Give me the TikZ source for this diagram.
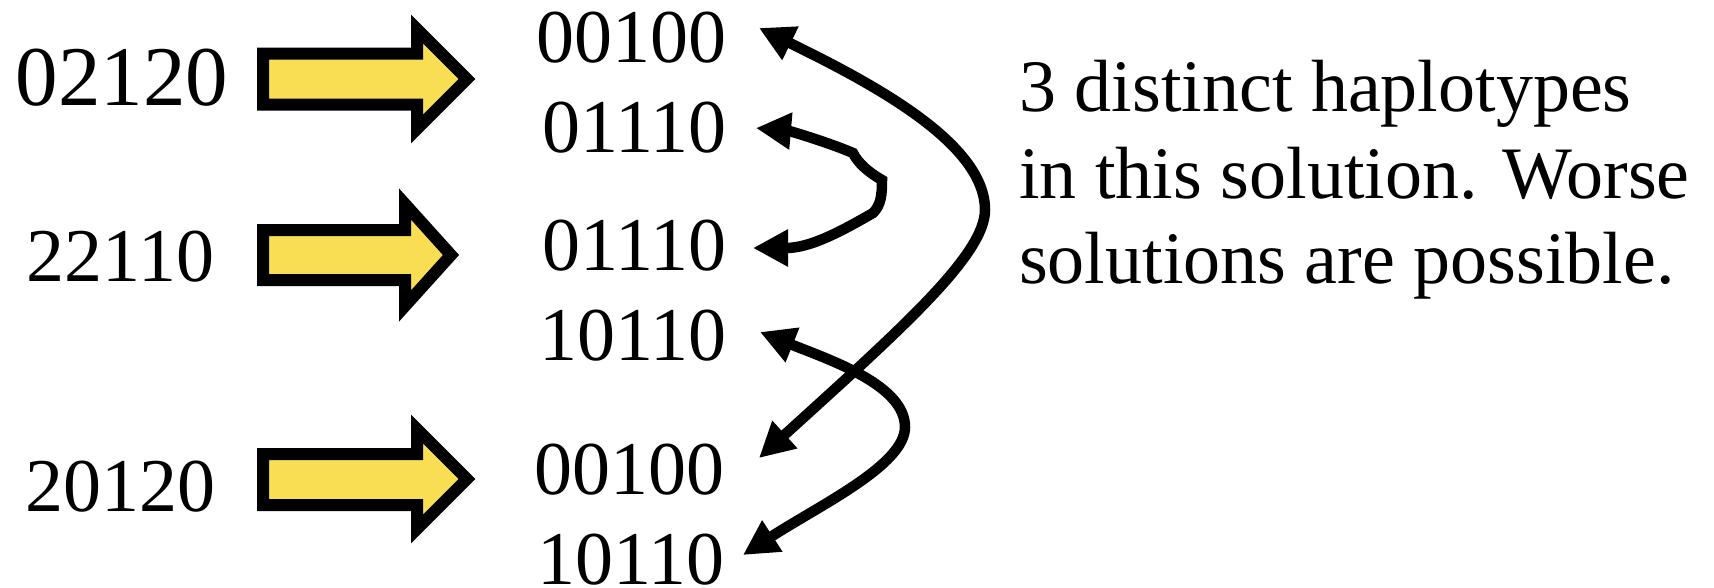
\documentclass[tikz,border=0pt]{standalone}
\usepackage{fontspec}
\setmainfont{Liberation Serif}
\usetikzlibrary{arrows.meta}
\definecolor{arrowyellow}{HTML}{F9DE53}
\begin{document}
\begin{tikzpicture}[x=1pt,y=-1pt,
  blockarrow/.style={draw=black, line width=12pt, fill=arrowyellow, line join=miter, miter limit=10},
  bigdigits/.style={inner sep=0pt, anchor=base, font=\fontsize{85}{90}\selectfont},
  digits/.style={inner sep=0pt, anchor=base, font=\fontsize{76}{80}\selectfont},
  outdigits/.style={inner sep=0pt, anchor=base east, font=\fontsize{76}{80}\selectfont},
  note/.style={inner sep=0pt, anchor=base west, font=\fontsize{74}{86}\selectfont},
  link/.style={line width=10.5pt, {Triangle[length=35pt,width=35pt]}-{Triangle[length=35pt,width=35pt]}}
]
\path[use as bounding box] (0,0) rectangle (1714,587);

% genotypes
\node[bigdigits] (g1) at (122,105) {02120};
\node[digits] (g2) at (120.5,281) {22110};
\node[digits] (g3) at (120.5,511) {20120};

% block arrows
\draw[blockarrow] (263,53.5) -- (417,53.5) -- (417,29) -- (467,79) -- (417,129) -- (417,104.5) -- (263,104.5) -- cycle;
\draw[blockarrow] (263,230) -- (405,230) -- (405,204) -- (451,255) -- (405,306) -- (405,280) -- (263,280) -- cycle;
\draw[blockarrow] (263,454) -- (417,454) -- (417,429) -- (467,479) -- (417,529) -- (417,505) -- (263,505) -- cycle;

% haplotypes
\node[outdigits] (r1) at (727,62) {00100};
\node[outdigits] (r2) at (727,152) {01110};
\node[outdigits] (r3) at (727,270) {01110};
\node[outdigits] (r4) at (727,360) {10110};
\node[outdigits] (r5) at (725,494) {00100};
\node[outdigits] (r6) at (725,584) {10110};

% note
\node[note] (t1) at (1019,111) {3 distinct haplotypes};
\node[note] (t2) at (1019,198) {in this solution. Worse};
\node[note] (t3) at (1019,283) {solutions are possible.};

% links between identical haplotypes
\draw[link] ([shift={(32,-34)}]r1.base east) .. controls (880,87) and (985,145) .. (985,210)
  .. controls (985,255) and (900,330) .. ([shift={(34,-36)}]r5.base east);
\draw[link] ([shift={(29,-24)}]r2.base east) .. controls (790,131) and (830,143) .. (853,153)
  .. controls (858,163) and (868,172) .. (882,180)
  .. controls (882,195) and (881,205) .. (873,213)
  .. controls (840,232) and (810,248) .. ([shift={(26,-22)}]r3.base east);
\draw[link] ([shift={(33,-28)}]r4.base east) .. controls (830,360) and (905,385) .. (905,427)
  .. controls (905,465) and (820,505) .. ([shift={(18,-29)}]r6.base east);
\end{tikzpicture}
\end{document}
